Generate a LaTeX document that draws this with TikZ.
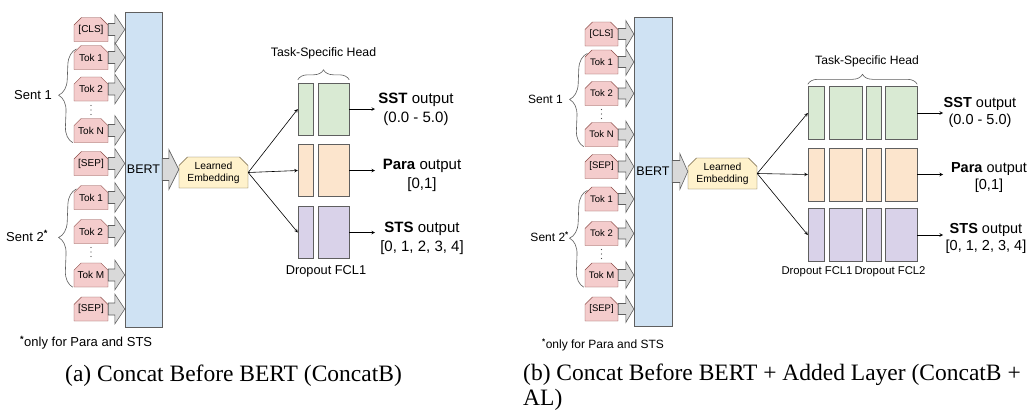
\documentclass[tikz,border=0pt]{standalone}
\usepackage{fontspec}
\setmainfont{Liberation Sans}
\newfontfamily\capfont{Liberation Serif}
\usepackage{xcolor}
\usepackage{tikz}
\usetikzlibrary{shapes.misc,decorations.pathreplacing,calc}

\definecolor{tokfill}{HTML}{F4CCCC}
\definecolor{tokline}{HTML}{8C4A46}
\definecolor{bertfill}{HTML}{CFE2F3}
\definecolor{embfill}{HTML}{FFF2CC}
\definecolor{embline}{HTML}{6E5E3C}
\definecolor{sstfill}{HTML}{D9EAD3}
\definecolor{parafill}{HTML}{FCE5CD}
\definecolor{stsfill}{HTML}{D9D2E9}
\definecolor{edgegray}{HTML}{5F5F5F}
\definecolor{arrfill}{HTML}{D9D9D9}

% gray block arrow: source, target, shaft half, head half, head length
\newcommand{\blockarr}[5]{%
  \draw[grayarr] ($(#1.east)+(0,-#3)$)
    -- ($(#1.east -| #2.west)+(-#5,-#3)$)
    -- ($(#1.east -| #2.west)+(-#5,-#4)$)
    -- (#1.east -| #2.west)
    -- ($(#1.east -| #2.west)+(-#5,#4)$)
    -- ($(#1.east -| #2.west)+(-#5,#3)$)
    -- ($(#1.east)+(0,#3)$) -- cycle;}
% three small vertical dots round a named coordinate
\newcommand{\tokdots}[1]{%
  \fill[black!70] ($(#1)+(0,-4.5)$) circle (0.7) (#1) circle (0.7) ($(#1)+(0,4.5)$) circle (0.7);}

\begin{document}
\begin{tikzpicture}[x=1pt, y=-1pt,
    tokbox/.style={chamfered rectangle, chamfered rectangle corners={north west,north east}, chamfered rectangle xsep=4pt,
      draw=tokline, fill=tokfill, minimum width=34, minimum height=24, inner sep=0pt, font=\fontsize{10}{12}\selectfont},
    embbox/.style={chamfered rectangle, chamfered rectangle corners={north west,north east}, chamfered rectangle xsep=5pt,
      draw=embline, fill=embfill, minimum width=69, minimum height=31, inner sep=0pt, align=center, font=\fontsize{10.3}{12}\selectfont},
    bertbox/.style={draw=edgegray, fill=bertfill, inner sep=1pt, font=\fontsize{12.5}{14}\selectfont},
    fcl/.style={draw=edgegray, inner sep=0pt},
    grayarr/.style={draw=edgegray, fill=arrfill, line width=0.6pt, line join=miter},
    arr/.style={->, >=stealth, line width=0.6pt},
    brc/.style={decorate, decoration={brace, amplitude=#1}, draw=edgegray, line width=0.6pt},
    brc/.default=16,
    outlbl/.style={align=center, inner sep=1pt, font=\fontsize{15}{19}\selectfont},
    caplbl/.style={inner sep=0pt, font=\capfont\fontsize{23.5}{25}\selectfont}
]
    \path[use as bounding box, fill=white] (0,0) rectangle (1031,410);

    % ---------------- (a) ConcatB ----------------
    \node[bertbox, minimum width=37, minimum height=315] (bertA) at (143.5,169.5) {BERT};

    \node[tokbox] (clsA) at (91,29.5) {[CLS]};
    \node[tokbox] (s1t1A) at (91,57.5) {Tok 1};
    \node[tokbox] (s1t2A) at (91,89) {Tok 2};
    \coordinate (dots1A) at (91,110);
    \node[tokbox] (s1tnA) at (91,130.5) {Tok N};
    \node[tokbox] (sepA) at (91,163.5) {[SEP]};
    \node[tokbox] (s2t1A) at (91,197.5) {Tok 1};
    \node[tokbox] (s2t2A) at (91,231.5) {Tok 2};
    \coordinate (dots2A) at (91,252);
    \node[tokbox] (s2tmA) at (91,275) {Tok M};
    \node[tokbox] (endA) at (91,309) {[SEP]};
    \tokdots{dots1A}
    \tokdots{dots2A}

    \blockarr{clsA}{bertA}{6}{15}{10}
    \blockarr{s1t1A}{bertA}{6}{15}{10}
    \blockarr{s1t2A}{bertA}{6}{15}{10}
    \blockarr{s1tnA}{bertA}{6}{15}{10}
    \blockarr{sepA}{bertA}{6}{15}{10}
    \blockarr{s2t1A}{bertA}{6}{15}{10}
    \blockarr{s2t2A}{bertA}{6}{15}{10}
    \blockarr{s2tmA}{bertA}{6}{15}{10}
    \blockarr{endA}{bertA}{6}{15}{10}

    \draw[brc] ([xshift=-1pt]s1tnA.south west) -- ([xshift=-1pt]s1t1A.north west);
    \draw[brc] ([xshift=-1pt]s2tmA.south west) -- ([xshift=-1pt]s2t1A.north west);
    \node[anchor=east, inner sep=1pt, font=\fontsize{13}{15}\selectfont] (sent1A) at (53,95) {Sent 1};
    \node[anchor=east, inner sep=1pt, font=\fontsize{13}{15}\selectfont] (sent2A) at (49,236) {Sent 2\textsuperscript{\textbf{*}}};
    \node[anchor=west, inner sep=1pt, font=\fontsize{13}{15}\selectfont] (noteA) at (19,343) {\textsuperscript{\textbf{*}}only for Para and STS};

    \node[embbox] (embA) at (213.5,172.5) {Learned\\Embedding};
    \blockarr{bertA}{embA}{11}{20}{10}

    \node[fcl, fill=sstfill, minimum width=15, minimum height=52] (sstA1) at (305.5,109) {};
    \node[fcl, fill=sstfill, minimum width=31, minimum height=52] (sstA2) at (333.5,109) {};
    \node[fcl, fill=parafill, minimum width=15, minimum height=52] (paraA1) at (305.5,170.5) {};
    \node[fcl, fill=parafill, minimum width=31, minimum height=52] (paraA2) at (333.5,170.5) {};
    \node[fcl, fill=stsfill, minimum width=15, minimum height=52] (stsA1) at (305.5,232.5) {};
    \node[fcl, fill=stsfill, minimum width=31, minimum height=52] (stsA2) at (333.5,232.5) {};

    \draw[arr] (embA.east) -- (sstA1.west);
    \draw[arr] (embA.east) -- (paraA1.west);
    \draw[arr] (embA.east) -- (stsA1.west);

    \draw[brc=10] ([yshift=3pt]sstA1.north west) -- ([yshift=3pt]sstA2.north east);
    \node[inner sep=1pt, font=\fontsize{12.3}{14}\selectfont] (headA) at (323.5,53) {Task-Specific Head};
    \node[inner sep=1pt, font=\fontsize{12.8}{14}\selectfont] (dropA) at (326,271) {Dropout FCL1};

    \coordinate (sstEndA) at (375,109);
    \coordinate (paraEndA) at (375,170.5);
    \coordinate (stsEndA) at (375,232.5);
    \draw[arr] (sstA2.east) -- (sstEndA);
    \draw[arr] (paraA2.east) -- (paraEndA);
    \draw[arr] (stsA2.east) -- (stsEndA);
    \node[outlbl] (sstOutA) at (416,109) {\textbf{SST} output\\(0.0 - 5.0)};
    \node[outlbl] (paraOutA) at (422,175) {\textbf{Para} output\\{[0,1]}};
    \node[outlbl] (stsOutA) at (422,238.5) {\textbf{STS} output\\{[0, 1, 2, 3, 4]}};

    \node[caplbl, anchor=base west] (capA) at (65,381) {(a) Concat Before BERT (ConcatB)};

    % ---------------- (b) ConcatB + AL ----------------
    \node[bertbox, minimum width=38, minimum height=309] (bertB) at (653,171.5) {BERT};

    \node[tokbox, minimum width=33, font=\fontsize{9.5}{11}\selectfont] (clsB) at (601.5,34) {[CLS]};
    \node[tokbox, minimum width=33, font=\fontsize{9.5}{11}\selectfont] (s1t1B) at (601.5,62) {Tok 1};
    \node[tokbox, minimum width=33, font=\fontsize{9.5}{11}\selectfont] (s1t2B) at (601.5,93.5) {Tok 2};
    \coordinate (dots1B) at (601.5,114);
    \node[tokbox, minimum width=33, font=\fontsize{9.5}{11}\selectfont] (s1tnB) at (601.5,134.5) {Tok N};
    \node[tokbox, minimum width=33, font=\fontsize{9.5}{11}\selectfont] (sepB) at (601.5,166.5) {[SEP]};
    \node[tokbox, minimum width=33, font=\fontsize{9.5}{11}\selectfont] (s2t1B) at (601.5,199) {Tok 1};
    \node[tokbox, minimum width=33, font=\fontsize{9.5}{11}\selectfont] (s2t2B) at (601.5,233.5) {Tok 2};
    \coordinate (dots2B) at (601.5,254);
    \node[tokbox, minimum width=33, font=\fontsize{9.5}{11}\selectfont] (s2tmB) at (601.5,275) {Tok M};
    \node[tokbox, minimum width=33, font=\fontsize{9.5}{11}\selectfont] (endB) at (601.5,309) {[SEP]};
    \tokdots{dots1B}
    \tokdots{dots2B}

    \blockarr{clsB}{bertB}{5.5}{13.5}{8}
    \blockarr{s1t1B}{bertB}{5.5}{13.5}{8}
    \blockarr{s1t2B}{bertB}{5.5}{13.5}{8}
    \blockarr{s1tnB}{bertB}{5.5}{13.5}{8}
    \blockarr{sepB}{bertB}{5.5}{13.5}{8}
    \blockarr{s2t1B}{bertB}{5.5}{13.5}{8}
    \blockarr{s2t2B}{bertB}{5.5}{13.5}{8}
    \blockarr{s2tmB}{bertB}{5.5}{13.5}{8}
    \blockarr{endB}{bertB}{5.5}{13.5}{8}

    \draw[brc] ([xshift=-1pt]s1tnB.south west) -- ([xshift=-1pt]s1t1B.north west);
    \draw[brc] ([xshift=-1pt]s2tmB.south west) -- ([xshift=-1pt]s2t1B.north west);
    \node[anchor=east, inner sep=1pt, font=\fontsize{12}{14}\selectfont] (sent1B) at (564,99) {Sent 1};
    \node[anchor=east, inner sep=1pt, font=\fontsize{12}{14}\selectfont] (sent2B) at (570,237) {Sent 2\textsuperscript{\textbf{*}}};
    \node[anchor=west, inner sep=1pt, font=\fontsize{12}{14}\selectfont] (noteB) at (541,345) {\textsuperscript{\textbf{*}}only for Para and STS};

    \node[embbox] (embB) at (722.5,173.5) {Learned\\Embedding};
    \blockarr{bertB}{embB}{11}{18}{8}

    \node[fcl, fill=sstfill, minimum width=16, minimum height=53] (sstB1) at (816,113) {};
    \node[fcl, fill=sstfill, minimum width=33, minimum height=53] (sstB2) at (845.5,113) {};
    \node[fcl, fill=sstfill, minimum width=15, minimum height=53] (sstB3) at (873.5,113) {};
    \node[fcl, fill=sstfill, minimum width=32, minimum height=53] (sstB4) at (901,113) {};
    \node[fcl, fill=parafill, minimum width=16, minimum height=53] (paraB1) at (816,174.5) {};
    \node[fcl, fill=parafill, minimum width=33, minimum height=53] (paraB2) at (845.5,174.5) {};
    \node[fcl, fill=parafill, minimum width=15, minimum height=53] (paraB3) at (873.5,174.5) {};
    \node[fcl, fill=parafill, minimum width=32, minimum height=53] (paraB4) at (901,174.5) {};
    \node[fcl, fill=stsfill, minimum width=16, minimum height=53] (stsB1) at (816,235) {};
    \node[fcl, fill=stsfill, minimum width=33, minimum height=53] (stsB2) at (845.5,235) {};
    \node[fcl, fill=stsfill, minimum width=15, minimum height=53] (stsB3) at (873.5,235) {};
    \node[fcl, fill=stsfill, minimum width=32, minimum height=53] (stsB4) at (901,235) {};

    \draw[arr] (embB.east) -- (sstB1.west);
    \draw[arr] (embB.east) -- (paraB1.west);
    \draw[arr] (embB.east) -- (stsB1.west);

    \draw[brc=10] ([yshift=2pt]sstB1.north west) -- ([yshift=2pt]sstB4.north east);
    \node[inner sep=1pt, font=\fontsize{12.1}{14}\selectfont] (headB) at (867,61) {Task-Specific Head};
    \node[inner sep=1pt, font=\fontsize{11.3}{13}\selectfont] (drop1B) at (817,272) {Dropout FCL1};
    \node[inner sep=1pt, font=\fontsize{11.3}{13}\selectfont] (drop2B) at (890,272) {Dropout FCL2};

    \coordinate (sstEndB) at (943,113);
    \coordinate (paraEndB) at (943,174.5);
    \coordinate (stsEndB) at (943,235);
    \draw[arr] (sstB4.east) -- (sstEndB);
    \draw[arr] (paraB4.east) -- (paraEndB);
    \draw[arr] (stsB4.east) -- (stsEndB);
    \node[outlbl, font=\fontsize{14.5}{17}\selectfont] (sstOutB) at (980,112) {\textbf{SST} output\\(0.0 - 5.0)};
    \node[outlbl, font=\fontsize{14.5}{17}\selectfont] (paraOutB) at (989,177.5) {\textbf{Para} output\\{[0,1]}};
    \node[outlbl, font=\fontsize{14.5}{17}\selectfont] (stsOutB) at (986,238) {\textbf{STS} output\\{[0, 1, 2, 3, 4]}};

    \node[caplbl, anchor=base west, align=left] (capB) at (523,405) {(b) Concat Before BERT + Added Layer (ConcatB +\\AL)};
\end{tikzpicture}
\end{document}
